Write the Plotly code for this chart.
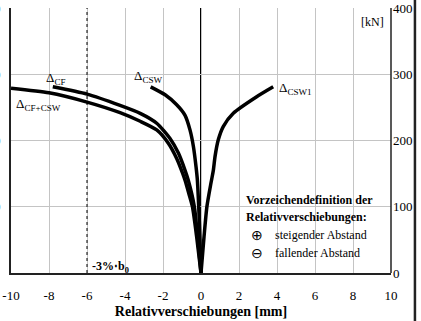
import plotly.graph_objects as go

# Load-displacement curves: relative displacement [mm] vs. load [kN]
cf_csw_x = [-10, -8, -6, -4.26, -3.2, -2.33, -1.72, -1.28, -0.96, -0.84, -0.64, -0.45, -0.23, 0]
cf_csw_y = [279, 272, 258, 242, 229, 216, 196, 173, 150, 140, 120, 100, 55, 0]

cf_x = [-7.8, -6, -4.26, -3.2, -2.33, -1.63, -1.19, -0.84, -0.67, -0.35, -0.18, 0]
cf_y = [281, 270, 253, 241, 226, 203, 181, 155, 140, 100, 55, 0]

csw_x = [-2.65, -1.89, -1.28, -0.84, -0.58, -0.4, -0.26, -0.19, -0.12, -0.06, 0]
csw_y = [281, 269, 254, 238, 216, 191, 160, 140, 100, 55, 0]

csw1_x = [0, 0.16, 0.31, 0.52, 0.65, 0.74, 0.91, 1.17, 1.7, 2.93, 3.8]
csw1_y = [0, 55, 100, 135, 155, 176, 201, 221, 241, 266, 281]

x_ticks = [-10, -8, -6, -4, -2, 0, 2, 4, 6, 8, 10]
y_ticks = [0, 100, 200, 300, 400]
left_labels = [100, 200, 300, 400]

SERIF = "Liberation Serif, Times New Roman, serif"
YMAX = 400

fig = go.Figure()
for xs, ys in [(cf_csw_x, cf_csw_y), (cf_x, cf_y), (csw_x, csw_y), (csw1_x, csw1_y)]:
    fig.add_trace(go.Scatter(x=xs, y=ys, mode="lines",
                             line=dict(color="black", width=3.5, shape="spline", smoothing=0.6),
                             showlegend=False, hoverinfo="skip"))

# x = 0 reference line and -3% b0 limit
fig.add_shape(type="line", x0=0, x1=0, y0=0, y1=YMAX, xref="x", yref="y",
              line=dict(color="black", width=2), layer="below")
fig.add_shape(type="line", x0=-6, x1=-6, y0=0, y1=YMAX, xref="x", yref="y",
              line=dict(color="black", width=1, dash="dot"))
# right-hand axis line of the plot area
fig.add_shape(type="line", xref="paper", x0=1, x1=1, yref="paper", y0=0, y1=1,
              line=dict(color="#222", width=1.5))
# outer frame line on the right
fig.add_shape(type="line", xref="paper", x0=1.063, x1=1.063, yref="paper", y0=-0.19, y1=1.04,
              line=dict(color="#222", width=2.5))

ann = []
def label(x, y, text, size=12, xanchor="left", bold=False, xref="x", yref="y"):
    if bold:
        text = "<b>" + text + "</b>"
    ann.append(dict(x=x, y=y, xref=xref, yref=yref, text=text, showarrow=False,
                    xanchor=xanchor, yanchor="middle",
                    font=dict(family=SERIF, size=size, color="black")))

label(-8.25, 294, "Δ<sub>CF</sub>", 13)
label(-9.85, 255, "Δ<sub>CF+CSW</sub>", 13)
label(-3.62, 296, "Δ<sub>CSW</sub>", 13)
label(4.0, 278, "Δ<sub>CSW1</sub>", 13)
label(-5.85, 9, "-3%⋅b<sub>0</sub>", 12, bold=True)
label(9.72, 379, "[kN]", 12, xanchor="right")
label(2.25, 110, "Vorzeichendefinition der", 12, bold=True)
label(2.25, 84.5, "Relativverschiebungen:", 12, bold=True)
label(2.95, 57, "⊕", 14, xanchor="center")
label(3.8, 57, "steigender Abstand", 12)
label(2.95, 30, "⊖", 14, xanchor="center")
label(3.8, 30, "fallender Abstand", 12)

# right-hand load scale
for v in y_ticks:
    label(1.0, v / YMAX, str(v), 13, xanchor="left", xref="paper", yref="paper")
# left-hand tick labels, mostly outside the page
for v in left_labels:
    label(-0.021, v / YMAX, str(v), 13, xanchor="right", xref="paper", yref="paper")

fig.update_layout(
    width=421, height=321,
    margin=dict(l=11, r=30, t=8, b=48, autoexpand=False),
    paper_bgcolor="white", plot_bgcolor="white",
    font=dict(family=SERIF, size=13, color="black"),
    annotations=ann,
    showlegend=False,
    xaxis=dict(range=[-10, 10], tickvals=x_ticks, ticktext=[str(v) for v in x_ticks],
               showgrid=True, gridcolor="#c4c4c4", gridwidth=1, zeroline=False,
               showline=True, linecolor="#222", linewidth=1.5, ticks="",
               ticklabelstandoff=10,
               title=dict(text="<b>Relativverschiebungen [mm]</b>", standoff=4,
                          font=dict(family=SERIF, size=14))),
    yaxis=dict(range=[0, YMAX], tickvals=y_ticks, showticklabels=False,
               showgrid=True, gridcolor="#c4c4c4", gridwidth=1, zeroline=False,
               showline=True, linecolor="#222", linewidth=1.5, ticks=""),
)

fig.write_html("out.html")
